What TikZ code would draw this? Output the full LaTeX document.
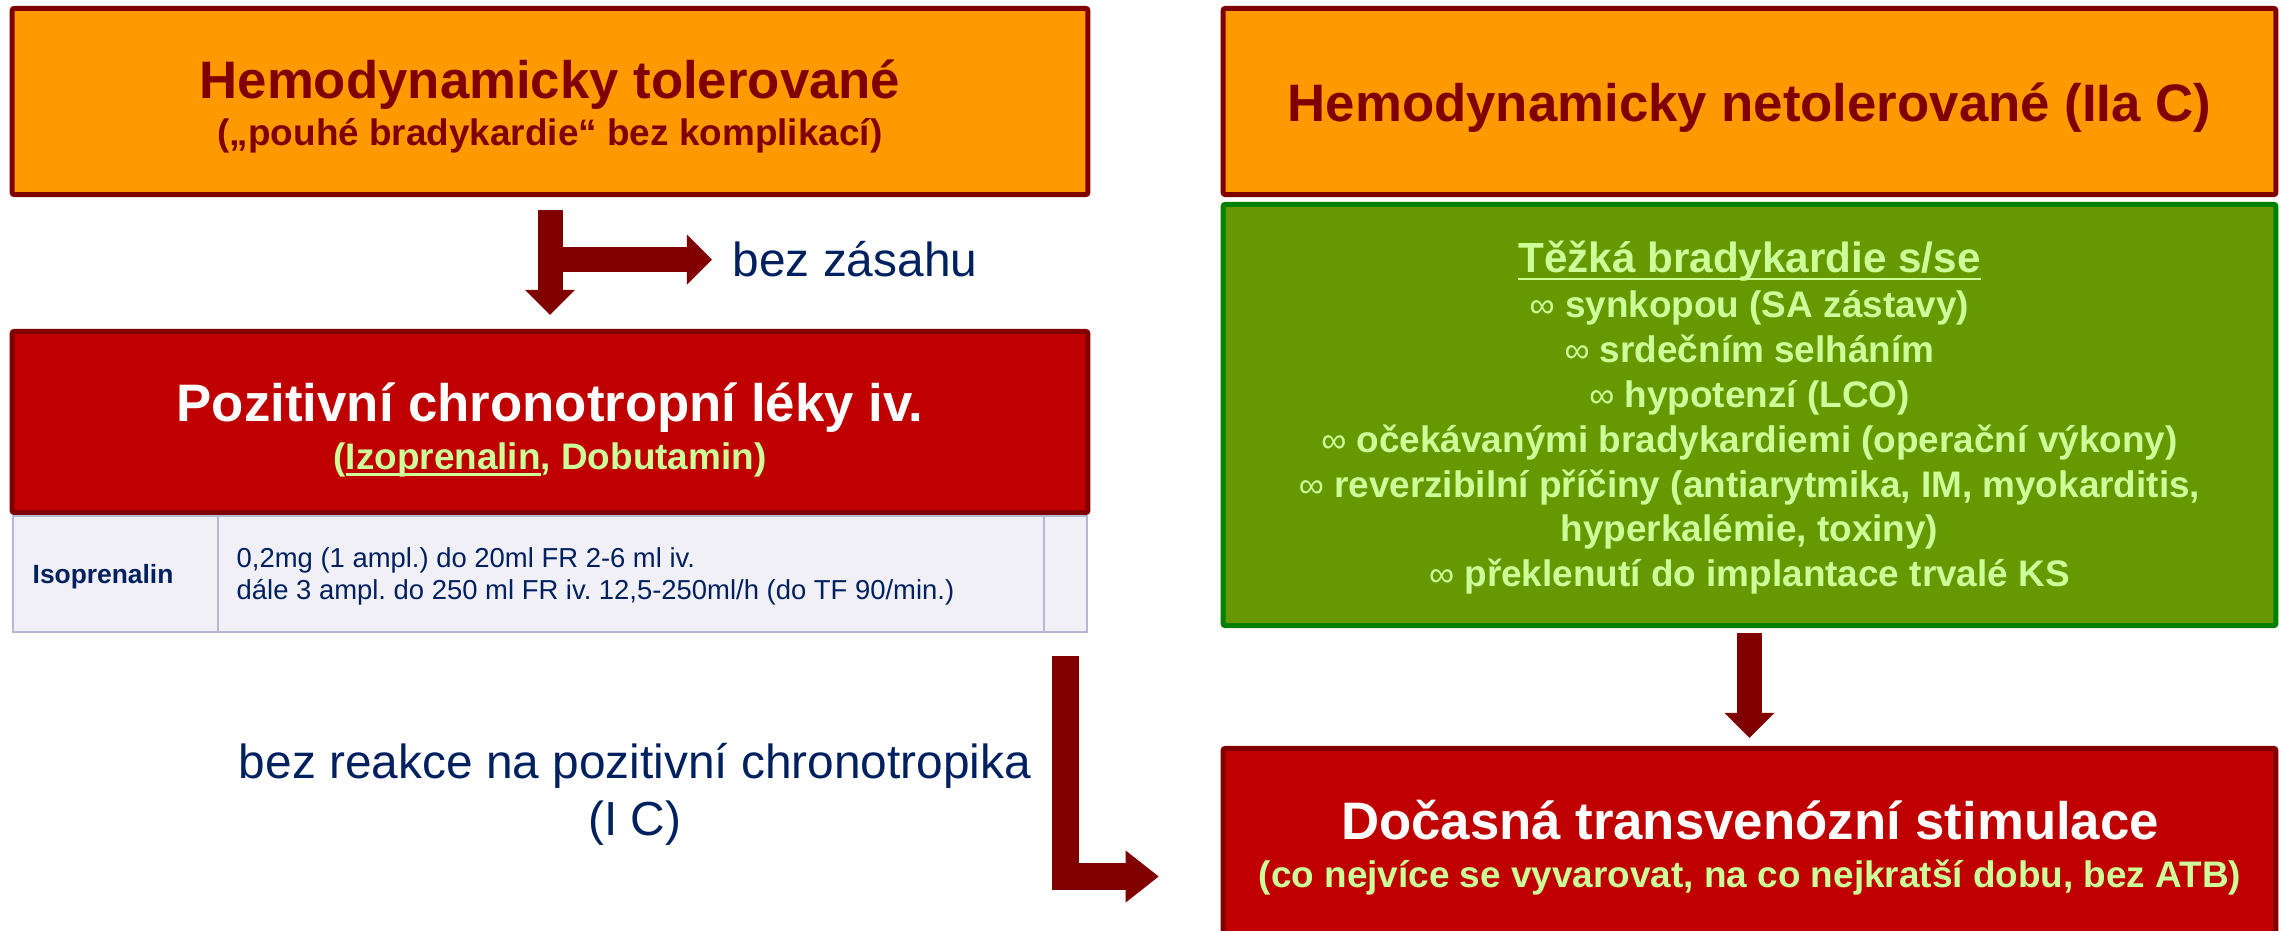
\documentclass[tikz,border=0pt]{standalone}
\usepackage{fontspec}
\setmainfont{Liberation Sans}
\usetikzlibrary{arrows.meta}
\definecolor{orangefill}{HTML}{FF9900}
\definecolor{darkred}{HTML}{800000}
\definecolor{boxred}{HTML}{C00000}
\definecolor{greenfill}{HTML}{669900}
\definecolor{greenline}{HTML}{008000}
\definecolor{lightgreen}{HTML}{CCFF99}
\definecolor{navy}{HTML}{002060}
\definecolor{tablefill}{HTML}{F0F0F6}
\definecolor{tableline}{HTML}{B4B8D4}
\frenchspacing
% underline set close to the baseline
\newcommand{\ulin}[2]{\setbox0=\hbox{#2}\rlap{\rule[#1]{\wd0}{0.7pt}}\box0}
% bullet of the green list
\newcommand{\bul}{{\mdseries\fontsize{10}{12}\selectfont ∞}}
\begin{document}
\begin{tikzpicture}[x=0.01cm, y=-0.01cm,
    box/.style={draw, line width=0.05cm, rounded corners=0.02cm, inner sep=0pt, outer sep=0pt},
    orangebox/.style={box, draw=darkred, fill=orangefill},
    redbox/.style={box, draw=darkred, fill=boxred},
    greenbox/.style={box, draw=greenline, fill=greenfill},
    cell/.style={draw=tableline, fill=tablefill, line width=0.02cm, inner sep=0pt, outer sep=0pt, minimum height=1.16cm},
    celltext/.style={inner sep=0pt, text=navy, font=\fontsize{7.8}{9}\selectfont},
    titletext/.style={inner sep=0pt, anchor=base, font=\bfseries\fontsize{15}{18}\selectfont},
    subtext/.style={inner sep=0pt, anchor=base, font=\bfseries\fontsize{10.5}{12.6}\selectfont},
    greentext/.style={subtext, text=lightgreen},
    notetext/.style={inner sep=0pt, text=navy, font=\fontsize{13.6}{16}\selectfont},
    blockarrow/.style={draw=darkred, line width=0.25cm, -{Triangle[width=0.5cm, length=0.25cm, line width=0pt]}}]
                    \useasboundingbox (0,0) rectangle (2279,931);
                    \clip (0,0) rectangle (2279,931);

                    % Drawing box tol
                    \node [orangebox, minimum width=10.75cm, minimum height=1.86cm] (tol) at (550,101.5) {};%
                    \draw (550,99) node [titletext, text=darkred] (tolT) { Hemodynamicky tolerované };%
                    \draw (550,146) node [subtext, text=darkred] (tolS) { („pouhé bradykardie“ bez komplikací) };%

                    % Drawing box net
                    \node [orangebox, minimum width=10.52cm, minimum height=1.86cm] (net) at (1749.5,101.5) {};%
                    \draw (1749.5,122) node [titletext, text=darkred] (netT) { Hemodynamicky netolerované (IIa C) };%

                    % Drawing box lek
                    \node [redbox, minimum width=10.75cm, minimum height=1.81cm] (lek) at (550,422) {};%
                    \draw (550,422) node [titletext, text=white] (lekT) { Pozitivní chronotropní léky iv. };%
                    \draw (550,470) node [subtext, text=lightgreen] (lekS) { (\ulin{-1.6pt}{Izoprenalin}, Dobutamin) };%

                    % Drawing table of doses
                    \node [cell, minimum width=2.05cm] (c1) at (115.5,574) {};%
                    \node [cell, minimum width=8.26cm] (c2) at (631,574) {};%
                    \node [cell, minimum width=0.43cm] (c3) at (1065.5,574) {};%
                    \draw (32,584) node [celltext, anchor=base west, font=\bfseries\fontsize{7.5}{9}\selectfont] (iso) { Isoprenalin };%
                    \draw (236,568) node [celltext, anchor=base west] (doseA) { 0,2mg (1 ampl.) do 20ml FR 2-6 ml iv. };%
                    \draw (236,600) node [celltext, anchor=base west] (doseB) { dále 3 ampl. do 250 ml FR iv. 12,5-250ml/h (do TF 90/min.) };%

                    % Drawing box tez
                    \node [greenbox, minimum width=10.52cm, minimum height=4.21cm] (tez) at (1749.5,415) {};%
                    \draw (1749.5,273) node [greentext, font=\bfseries\fontsize{12}{14}\selectfont] (tezT) { \ulin{-2pt}{Těžká bradykardie s/se} };%
                    \draw (1749.5,318) node [greentext] (tezA) { \bul{} synkopou (SA zástavy) };%
                    \draw (1749.5,363) node [greentext] (tezB) { \bul{} srdečním selháním };%
                    \draw (1749.5,408) node [greentext] (tezC) { \bul{} hypotenzí (LCO) };%
                    \draw (1749.5,453) node [greentext] (tezD) { \bul{} očekávanými bradykardiemi (operační výkony) };%
                    \draw (1749.5,498) node [greentext] (tezE) { \bul{} reverzibilní příčiny (antiarytmika, IM, myokarditis, };%
                    \draw (1749.5,542) node [greentext] (tezF) { hyperkalémie, toxiny) };%
                    \draw (1749.5,587) node [greentext] (tezG) { \bul{} překlenutí do implantace trvalé KS };%

                    % Drawing box stim
                    \node [redbox, minimum width=10.52cm, minimum height=2.56cm] (stim) at (1749.5,876.5) {};%
                    \draw (1750,839) node [titletext, text=white] (stimT) { Dočasná transvenózní stimulace };%
                    \draw (1750,887) node [greentext] (stimS) { (co nejvíce se vyvarovat, na co nejkratší dobu, bez ATB) };%

                    % Marking free texts
                    \draw (732,277) node [notetext, anchor=base west] (zasah) {bez zásahu};%
                    \draw (635,778) node [notetext, anchor=base] (reakce) { bez reakce na pozitivní chronotropika };%
                    \draw (635,835) node [notetext, anchor=base] (trida) { (I C) };%

                    % Drawing arrows
                    \draw [blockarrow, shorten <=0.155cm, shorten >=0.165cm] (tol.south) -- (lek.north);%
                    \draw [blockarrow, shorten >=0.2cm] (tol.south |- zasah.west) -- (zasah.west);%
                    \draw [blockarrow, shorten <=0.075cm, shorten >=0.105cm] (tez.south) -- (stim.north);%
                    \draw [blockarrow, line width=0.27cm, -{Triangle[width=0.52cm, length=0.33cm, line width=0pt]}, shorten <=0.24cm, shorten >=0.645cm] (c3.south) |- (stim.west);%
\end{tikzpicture}
\end{document}
